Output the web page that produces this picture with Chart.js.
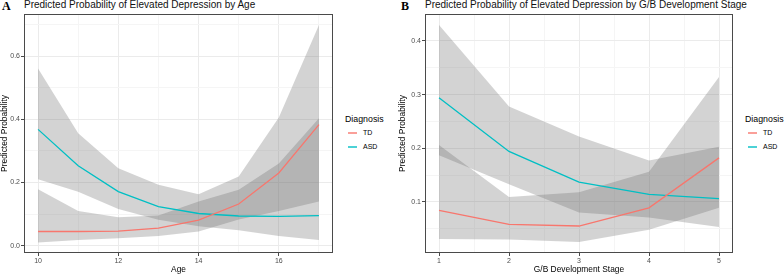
<!DOCTYPE html>
<html>
<head>
<meta charset="utf-8">
<script src="https://cdn.jsdelivr.net/npm/chart.js@4.4.0/dist/chart.umd.min.js"></script>
<style>
  html, body { margin:0; padding:0; background:#fff; }
  #wrap { position:relative; width:784px; height:275px; overflow:hidden; font-family:"Liberation Sans", Arial, sans-serif; }
  .panel { position:absolute; top:0; height:275px; }
  .lab { position:absolute; top:0; font-family:"Liberation Serif","Times New Roman",serif; font-weight:bold; font-size:12px; line-height:12px; color:#000; }
  .ttl { position:absolute; top:0; font-size:10px; line-height:10px; color:#111; white-space:nowrap; }
  .leg { position:absolute; width:40px; height:40px; font-size:8.8px; color:#000; }
  .leg .h { position:absolute; left:0; top:0; line-height:10px; white-space:nowrap; }
  .leg .k { position:absolute; left:3px; width:9px; height:2px; opacity:0.7; }
  .leg .t { position:absolute; left:18px; font-size:7px; line-height:8px; white-space:nowrap; }
</style>
</head>
<body>
<div id="wrap">
  <div class="lab" style="left:2px;">A</div>
  <div class="ttl" style="left:24px;">Predicted Probability of Elevated Depression by Age</div>
  <div class="panel" style="left:0; width:334px;"><canvas id="c1"></canvas></div>
  <div class="leg" style="left:345px; top:114px;">
    <div class="h">Diagnosis</div>
    <div class="k" style="top:18px; background-color:#F8766D;"></div><div class="t" style="top:15px;">TD</div>
    <div class="k" style="top:32px; background-color:#00BFC4;"></div><div class="t" style="top:29px;">ASD</div>
  </div>

  <div class="lab" style="left:401px;">B</div>
  <div class="ttl" style="left:425px;">Predicted Probability of Elevated Depression by G/B Development Stage</div>
  <div class="panel" style="left:392px; width:342px;"><canvas id="c2"></canvas></div>
  <div class="leg" style="left:745px; top:114px;">
    <div class="h">Diagnosis</div>
    <div class="k" style="top:18px; background-color:#F8766D;"></div><div class="t" style="top:15px;">TD</div>
    <div class="k" style="top:32px; background-color:#00BFC4;"></div><div class="t" style="top:29px;">ASD</div>
  </div>
</div>
<script>
// ---------- Panel A: by Age ----------
const ages        = [10, 11, 12, 13, 14, 15, 16, 17];
const tdAge       = [0.045, 0.045, 0.046, 0.056, 0.081, 0.132, 0.230, 0.383];
const tdAgeLow    = [0.010, 0.018, 0.024, 0.031, 0.045, 0.083, 0.110, 0.140];
const tdAgeHigh   = [0.179, 0.110, 0.090, 0.096, 0.140, 0.177, 0.260, 0.403];
const asdAge      = [0.368, 0.253, 0.171, 0.124, 0.102, 0.094, 0.093, 0.095];
const asdAgeLow   = [0.210, 0.171, 0.116, 0.082, 0.062, 0.049, 0.031, 0.018];
const asdAgeHigh  = [0.561, 0.356, 0.245, 0.193, 0.163, 0.219, 0.406, 0.698];
const ageMajorX   = [10, 12, 14, 16];
const ageMinorX   = [11, 13, 15, 17];
const ageMajorY   = [0, 0.2, 0.4, 0.6];
const ageMinorY   = [0.1, 0.3, 0.5, 0.7];

// ---------- Panel B: by G/B Development Stage ----------
const stages      = [1, 2, 3, 4, 5];
const tdStg       = [0.084, 0.058, 0.055, 0.089, 0.182];
const tdStgLow    = [0.031, 0.030, 0.025, 0.048, 0.089];
const tdStgHigh   = [0.206, 0.109, 0.118, 0.156, 0.333];
const asdStg      = [0.294, 0.194, 0.137, 0.114, 0.106];
const asdStgLow   = [0.187, 0.133, 0.080, 0.071, 0.053];
const asdStgHigh  = [0.430, 0.278, 0.222, 0.177, 0.203];
const stgMajorX   = [1, 2, 3, 4, 5];
const stgMinorX   = [1.5, 2.5, 3.5, 4.5];
const stgMajorY   = [0.1, 0.2, 0.3, 0.4];
const stgMinorY   = [0.05, 0.15, 0.25, 0.35];

const TD_COL = '#F8766D', ASD_COL = '#00BFC4';
const RIBBON = 'rgba(105,105,105,0.29)';
const FONT = '"Liberation Sans", Arial, sans-serif';

function pts(xs, ys) { return xs.map((x, i) => ({ x: x, y: ys[i] })); }

const borderPlugin = {
  id: 'panelBorder',
  afterDraw(chart) {
    const a = chart.chartArea, c = chart.ctx;
    c.save();
    c.strokeStyle = '#4a4a4a';
    c.lineWidth = 1;
    c.strokeRect(Math.round(a.left) + 0.5, Math.round(a.top) + 0.5,
                 Math.round(a.right - a.left) - 1, Math.round(a.bottom - a.top) - 1);
    c.restore();
  }
};

function makeChart(id, xs, td, tdL, tdH, asd, asdL, asdH, cfg) {
  const isMajor = (list, v) => list.some(m => Math.abs(m - v) < 1e-9);
  const gridOpts = (major) => ({
    color: (ctx) => ctx.tick && isMajor(major, ctx.tick.value) ? '#ebebeb' : '#f5f5f5',
    tickColor: (ctx) => ctx.tick && isMajor(major, ctx.tick.value) ? '#4a4a4a' : 'rgba(0,0,0,0)',
    lineWidth: 1,
    drawTicks: true,
    tickLength: 3
  });
  const lineDs = (label, data, col) => ({
    label, data, borderColor: col, backgroundColor: col, borderWidth: 1.3,
    pointRadius: 0, fill: false, tension: 0
  });
  const ribDs = (label, data, target) => ({
    label, data, borderColor: 'rgba(0,0,0,0)', borderWidth: 0, pointRadius: 0,
    backgroundColor: RIBBON, fill: target === null ? false : { target: target }, tension: 0
  });
  return new Chart(document.getElementById(id), {
    type: 'line',
    data: {
      datasets: [
        lineDs('TD', pts(xs, td), TD_COL),
        lineDs('ASD', pts(xs, asd), ASD_COL),
        ribDs('TD upper', pts(xs, tdH), 3),
        ribDs('TD lower', pts(xs, tdL), null),
        ribDs('ASD upper', pts(xs, asdH), 5),
        ribDs('ASD lower', pts(xs, asdL), null)
      ]
    },
    options: {
      responsive: true,
      maintainAspectRatio: false,
      animation: false,
      devicePixelRatio: 1,
      layout: { padding: { top: 14, left: cfg.padLeft, right: 1, bottom: 0 } },
      plugins: { legend: { display: false }, tooltip: { enabled: false }, title: { display: false } },
      scales: {
        x: {
          type: 'linear', min: cfg.xMin, max: cfg.xMax,
          afterBuildTicks: (s) => { s.ticks = cfg.majorX.concat(cfg.minorX).sort((a, b) => a - b).map(v => ({ value: v })); },
          afterFit: (s) => { s.height = 22; },
          grid: gridOpts(cfg.majorX),
          border: { display: false },
          ticks: {
            autoSkip: false, maxRotation: 0, padding: 1, color: '#4d4d4d',
            font: { family: FONT, size: 7 },
            callback: (v) => isMajor(cfg.majorX, v) ? String(v) : ''
          },
          title: { display: true, text: cfg.xTitle, color: '#000', padding: { top: 0, bottom: 0 },
                   font: { family: FONT, size: 8.4, lineHeight: 1.2 } }
        },
        y: {
          type: 'linear', min: cfg.yMin, max: cfg.yMax,
          afterBuildTicks: (s) => { s.ticks = cfg.majorY.concat(cfg.minorY).sort((a, b) => a - b).map(v => ({ value: v })); },
          afterFit: (s) => { s.width = cfg.yWidth; },
          grid: gridOpts(cfg.majorY),
          border: { display: false },
          ticks: {
            autoSkip: false, padding: 1, color: '#4d4d4d',
            font: { family: FONT, size: 7 },
            callback: (v) => isMajor(cfg.majorY, v) ? v.toFixed(1) : ''
          },
          title: { display: true, text: 'Predicted Probability', color: '#000', padding: { top: 0, bottom: 0 },
                   font: { family: FONT, size: 8.4, lineHeight: 1.2 } }
        }
      }
    },
    plugins: [borderPlugin]
  });
}

makeChart('c1', ages, tdAge, tdAgeLow, tdAgeHigh, asdAge, asdAgeLow, asdAgeHigh, {
  xMin: 9.65, xMax: 17.35, yMin: -0.023, yMax: 0.733,
  majorX: ageMajorX, minorX: ageMinorX, majorY: ageMajorY, minorY: ageMinorY,
  xTitle: 'Age', yWidth: 24, padLeft: 0
});
makeChart('c2', stages, tdStg, tdStgLow, tdStgHigh, asdStg, asdStgLow, asdStgHigh, {
  xMin: 0.8, xMax: 5.2, yMin: 0.0047, yMax: 0.4503,
  majorX: stgMajorX, minorX: stgMinorX, majorY: stgMajorY, minorY: stgMinorY,
  xTitle: 'G/B Development Stage', yWidth: 27, padLeft: 6
});
</script>
</body>
</html>
